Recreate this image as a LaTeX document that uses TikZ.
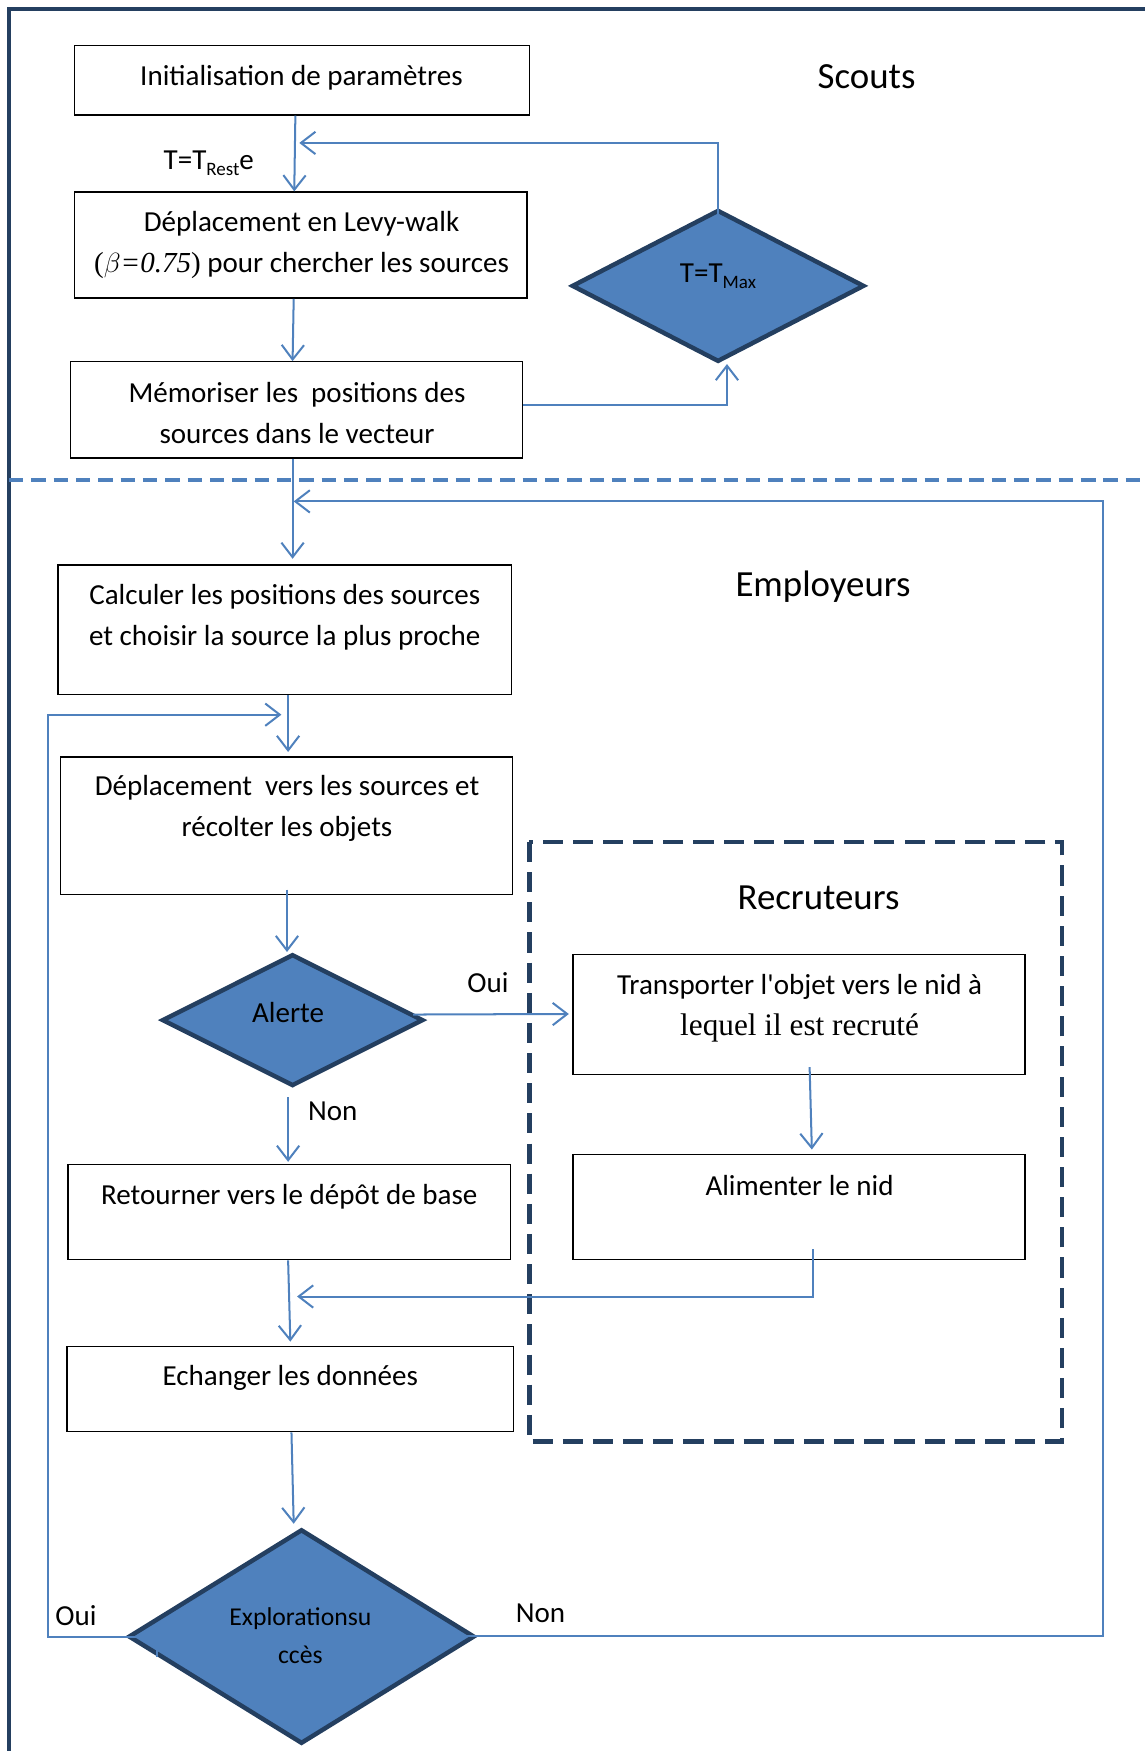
\documentclass[tikz,border=0pt]{standalone}
\usepackage{fontspec}
\setmainfont{Carlito}
\newfontfamily\tnr{Liberation Serif}
\usetikzlibrary{shapes.geometric,arrows.meta,calc}
\definecolor{linkblue}{HTML}{4F81BD}
\definecolor{navy}{HTML}{243F60}
\begin{document}
\begin{tikzpicture}[x=1pt,y=-1pt,
  box/.style={draw=black, line width=1.2pt, inner sep=0pt, fill=white},
  decision/.style={diamond, draw=navy, line width=4pt, fill=linkblue, inner sep=0pt},
  txt/.style={font=\fontsize{26}{37}\selectfont, align=center, inner sep=0pt},
  small/.style={font=\fontsize{23}{34}\selectfont, align=center, inner sep=0pt},
  head/.style={font=\fontsize{33}{40}\selectfont, inner sep=0pt},
  conn/.style={draw=linkblue, line width=1.8pt, -{Straight Barb[length=13pt,width=20pt]}},
]
\useasboundingbox (0,0) rectangle (1025,1568);

% outer frame (left and top edges) and the scouts / employers separator
\draw[navy, line width=4pt] (8,1568) -- (8,8) -- (1025,8);
\draw[linkblue, line width=4pt, dash pattern=on 13pt off 7pt] (8,430) -- (1025,430);

% recruiters group
\draw[navy, line width=4pt, dash pattern=on 18pt off 9pt] (474,754) rectangle (951,1291);

% process boxes
\node[box, minimum width=407, minimum height=62]  (b1) at (270.5,72) {};
\node[box, minimum width=405, minimum height=95]  (b2) at (269.5,219.5) {};
\node[box, minimum width=405, minimum height=86]  (b3) at (265.5,367) {};
\node[box, minimum width=406, minimum height=116] (b4) at (255,564) {};
\node[box, minimum width=405, minimum height=123] (b5) at (256.5,739.5) {};
\node[box, minimum width=396, minimum height=85]  (b7) at (259,1085.5) {};
\node[box, minimum width=400, minimum height=76]  (b9) at (260,1244) {};
\node[box, minimum width=405, minimum height=107] (b6) at (715.5,908.5) {};
\node[box, minimum width=405, minimum height=94]  (b8) at (715.5,1081) {};

% decisions
\node[decision, minimum width=262, minimum height=136] (tmax) at (643,256) {};
\node[decision, minimum width=234, minimum height=118] (alerte) at (262,913.5) {};
\node[decision, minimum width=310, minimum height=192] (expl) at (270,1465.5) {};

% junction points on the main flow
\coordinate (ret1) at (268,128);
\coordinate (ret2) at (252,640);
\coordinate (ret3) at (263,449);
\coordinate (ret4) at (266,1161);

% connectors
\draw[conn] ($(b1.south)+(-6,0)$) -- ($(b2.north)+(-6,0)$);
\draw[conn] ($(tmax.north)+(0,26)$) |- (ret1);
\draw[conn] ($(b2.south)+(-6.5,0)$) -- ($(b3.north)+(-3.5,0)$);
\draw[conn] ($(b3.east)+(0,-4)$) -| ($(tmax.south)+(8,0)$);
\draw[conn] ($(b3.south)+(-3.5,0)$) -- ($(b4.north)+(7,-5)$);
\draw[conn] ($(b4.south)+(3,0)$) -- ($(b5.north)+(1.5,-4)$);
\draw[conn] ($(expl.west)+(28,18)$) -- ($(expl.west)+(28,0)$) -- ++(-98,0) |- (ret2);
\draw[conn] ($(expl.east)+(-63,26)$) -- ($(expl.east)+(-63,-0.5)$) -- ++(624,0) |- (ret3);
\draw[conn] ($(b5.south)+(0.5,-5)$) -- ($(alerte.north)+(-5,0)$);
\draw[conn] ($(alerte.east)+(-11,-5)$) -- ($(b6.west)+(-3,-0.5)$);
\draw[conn] ($(alerte.south)+(-4,8)$) -- ($(b7.north)+(-1,-2)$);
\draw[conn] ($(b6.south)+(9.5,-7)$) -- ($(b8.north)+(11.5,-4)$);
\draw[conn] ($(b8.south)+(12.5,-10)$) |- (ret4);
\draw[conn] ($(b7.south)+(-1,0)$) -- ($(b9.north)+(0,-4)$);
\draw[conn] ($(b9.south)+(1,0)$) -- ($(expl.north)+(-7,-3)$);

% texts
\node[txt] (t1) at (270,70) {Initialisation de paramètres};
\node[txt, anchor=base] (trest) at (187,152) {T=T\raisebox{-5pt}{\fontsize{17}{17}\selectfont Rest}e};
\node[txt] (t2) at (270,219.5) {Déplacement en Levy-walk\\{\tnr(}$\beta${\tnr\itshape =0.75}{\tnr)} pour chercher les sources};
\node[txt] (t3) at (266,370) {Mémoriser les \ positions des\\sources dans le vecteur};
\node[head] (scouts) at (776,69) {Scouts};
\node[txt, anchor=base] (ttmax) at (643,253) {T=T\raisebox{-5pt}{\fontsize{17}{17}\selectfont Max}};
\node[head] (empl) at (737,525) {Employeurs};
\node[txt] (t4) at (255,552.5) {Calculer les positions des sources\\et choisir la source la plus proche};
\node[txt] (t5) at (257,724) {Déplacement \ vers les sources et\\récolter les objets};
\node[head] (recr) at (733,804) {Recruteurs};
\node[txt] (t6) at (716,903) {Transporter l\textquotesingle objet vers le nid à\\{\tnr\fontsize{28}{38}\selectfont lequel il est recruté}};
\node[txt] (talerte) at (258,907) {Alerte};
\node[txt] (oui1) at (437,880) {Oui};
\node[txt] (non1) at (298,995) {Non};
\node[txt] (t7) at (259,1072) {Retourner vers le dépôt de base};
\node[txt] (t8) at (716,1062) {Alimenter le nid};
\node[txt] (t9) at (260,1234) {Echanger les données};
\node[small] (texpl) at (269,1465) {Explorationsu\\ccès};
\node[txt] (oui2) at (68,1447) {Oui};
\node[txt] (non2) at (484,1445) {Non};
\end{tikzpicture}
\end{document}
